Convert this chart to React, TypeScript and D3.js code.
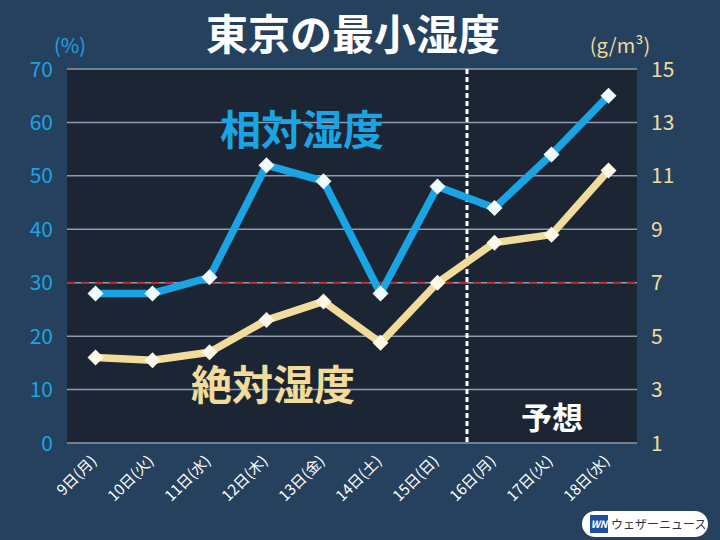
import React from "react";
import * as d3 from "d3";

const categories = ["9日(月)", "10日(火)", "11日(水)", "12日(木)", "13日(金)", "14日(土)", "15日(日)", "16日(月)", "17日(火)", "18日(水)"];
const relHumidity = [28, 28, 31, 52, 49, 28, 48, 44, 54, 65];
const absHumidity = [4.2, 4.1, 4.4, 5.6, 6.3, 4.75, 7.0, 8.5, 8.8, 11.2];
const leftTicks = [0, 10, 20, 30, 40, 50, 60, 70];
const rightTicks = [1, 3, 5, 7, 9, 11, 13, 15];
const thresholdPct = 30;
const forecastStartIndex = 7;

const W = 720, H = 540;
const M = { left: 67, right: 637, top: 69, bottom: 443 };
const FONT = "'Noto Sans CJK JP', 'Noto Sans', sans-serif";
const BLUE = "#1ba4e3";
const CREAM = "#f1dc9c";

export default function App() {
  const x = d3.scaleBand<string>().domain(categories).range([M.left, M.right]);
  const cx = (c: string) => (x(c) as number) + x.bandwidth() / 2;
  const yL = d3.scaleLinear().domain([0, 70]).range([M.bottom, M.top]);
  const yR = d3.scaleLinear().domain([1, 15]).range([M.bottom, M.top]);

  const lineL = d3.line<number>().x((_, i) => cx(categories[i])).y((d) => yL(d));
  const lineR = d3.line<number>().x((_, i) => cx(categories[i])).y((d) => yR(d));
  const forecastX = (x(categories[forecastStartIndex]) as number) + 1;

  const diamond = (px: number, py: number, r: number) =>
    `M${px},${py - r}L${px + r},${py}L${px},${py + r}L${px - r},${py}Z`;

  return (
    <svg width={W} height={H} style={{ display: "block", position: "absolute", left: 0, top: 0 }} fontFamily={FONT}>
      <rect width={W} height={H} fill="#26415e" />
      <rect x={M.left} y={M.top} width={M.right - M.left} height={M.bottom - M.top} fill="#1b2533" />
      {leftTicks.map((t) => (
        <line key={t} x1={M.left} x2={M.right} y1={yL(t)} y2={yL(t)} stroke="#8e9db0" strokeWidth={1.5} />
      ))}
      <line x1={M.left} x2={M.right} y1={yL(thresholdPct)} y2={yL(thresholdPct)} stroke="#c1272d" strokeWidth={2} strokeDasharray="8 6" />
      <line x1={forecastX} x2={forecastX} y1={M.top} y2={M.bottom} stroke="#ffffff" strokeWidth={3} strokeDasharray="5 3" />

      {leftTicks.map((t) => (
        <text key={t} x={53} y={yL(t)} dy="0.36em" textAnchor="end" fill={BLUE} fontSize={21}>{t}</text>
      ))}
      {rightTicks.map((t) => (
        <text key={t} x={651} y={yR(t)} dy="0.36em" textAnchor="start" fill={CREAM} fontSize={21}>{t}</text>
      ))}
      <text x={70} y={53} textAnchor="middle" fill={BLUE} fontSize={20}>(%)</text>
      <text x={620} y={53} textAnchor="middle" fill={CREAM} fontSize={20}>(g/m³)</text>

      <text x={353} y={50} textAnchor="middle" fill="#ffffff" fontSize={42} fontWeight="bold">東京の最小湿度</text>

      <path d={lineR(absHumidity) as string} fill="none" stroke={CREAM} strokeWidth={7.5} strokeLinejoin="round" />
      <path d={lineL(relHumidity) as string} fill="none" stroke={BLUE} strokeWidth={7.5} strokeLinejoin="round" />
      {absHumidity.map((v, i) => (
        <path key={"a" + i} d={diamond(cx(categories[i]), yR(v), 8)} fill="#fff8e6" />
      ))}
      {relHumidity.map((v, i) => (
        <path key={"r" + i} d={diamond(cx(categories[i]), yL(v), 8)} fill="#f0fbff" />
      ))}

      <text x={302} y={145} textAnchor="middle" fill={BLUE} fontSize={41} fontWeight="bold">相対湿度</text>
      <text x={273} y={400} textAnchor="middle" fill={CREAM} fontSize={41} fontWeight="bold">絶対湿度</text>
      <text x={552} y={429} textAnchor="middle" fill="#ffffff" fontSize={31} fontWeight="bold">予想</text>

      {categories.map((c) => (
        <text key={c} transform={`translate(${cx(c) + 2},${462}) rotate(-45)`} textAnchor="end" fill="#ffffff" fontSize={15}>{c}</text>
      ))}

      <g>
        <rect x={582} y={511} width={126} height={26} rx={13} fill="#ffffff" />
        <rect x={590} y={515} width={18} height={18} fill="#1f4f9e" />
        <text x={599} y={528} textAnchor="middle" fill="#ffffff" fontSize={10} fontWeight="bold" fontStyle="italic">WN</text>
        <text x={611} y={529} fill="#2a3242" fontSize={12}>ウェザーニュース</text>
      </g>
    </svg>
  );
}
